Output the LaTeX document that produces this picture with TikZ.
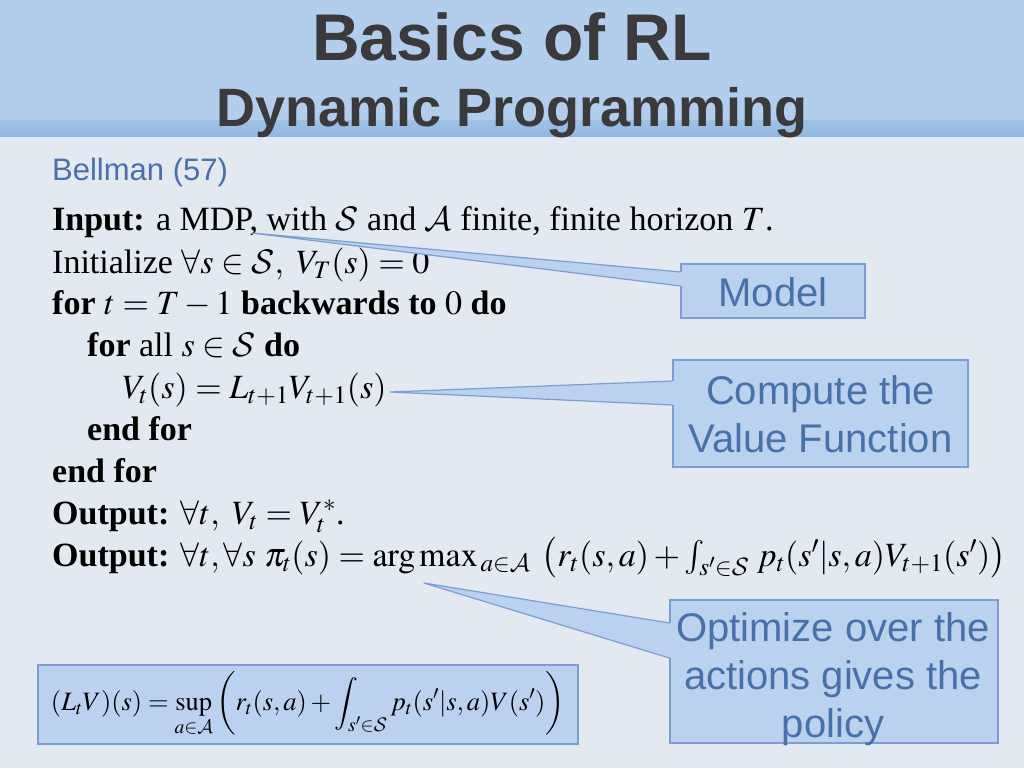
\RequirePackage{fix-cm}
\documentclass[tikz,border=0pt]{standalone}
\usepackage{mathptmx}
\DeclareMathAlphabet{\mathcal}{OMS}{cmsy}{m}{n}
\usepackage{fontspec}
\setmainfont{Liberation Serif}
\newfontfamily\sansfam{Liberation Sans}
\usetikzlibrary{calc}
\definecolor{bg}{RGB}{226,233,241}
\definecolor{head}{RGB}{178,206,236}
\definecolor{streak}{RGB}{146,184,226}
\definecolor{titlec}{RGB}{58,58,58}
\definecolor{bluetext}{RGB}{74,112,170}
\definecolor{boxfill}{RGB}{186,210,240}
\definecolor{boxline}{RGB}{122,158,208}
\begin{document}
\begin{tikzpicture}[x=1pt,y=-1pt,
  algo/.style={anchor=base west, inner sep=0pt, font=\fontsize{34}{40}\selectfont, text=black},
  callbox/.style={draw=boxline, fill=boxfill, line width=1.2pt, inner sep=0pt},
  calltext/.style={text=bluetext, font=\sansfam\fontsize{40}{48}\selectfont, align=center, inner sep=0pt},
  wedgeline/.style={draw=boxline, line width=1.2pt, line join=round}]
\useasboundingbox (0,0) rectangle (1024,768);
% background
\fill[bg] (0,0) rectangle (1024,768);
\fill[head] (0,0) rectangle (1024,121);
\shade[top color=head!40!streak, bottom color=streak] (0,120) rectangle (1024,136);
% titles
\node[anchor=base, inner sep=0pt, font=\sansfam\bfseries\fontsize{66}{70}\selectfont, text=titlec] (title) at (512,60) {Basics of RL};
\node[anchor=base, inner sep=0pt, font=\sansfam\bfseries\fontsize{54}{60}\selectfont, text=titlec] (subtitle) at (512,126) {Dynamic Programming};
\node[anchor=base west, inner sep=0pt, font=\sansfam\fontsize{31}{34}\selectfont, text=bluetext] (bellman) at (52,180) {Bellman (57)};
% algorithm
\node[algo] (l1) at (52,230) {\textbf{Input:} a MDP, with $\mathcal{S}$ and $\mathcal{A}$ finite, finite horizon $T$.};
\node[algo] (l2) at (52,273) {Initialize $\forall s\in\mathcal{S},\ V_T(s)=0$};
\node[algo] (l3) at (52,314) {\textbf{for} $t=T-1$ \textbf{backwards to} $0$ \textbf{do}};
\node[algo] (l4) at (87,356) {\textbf{for} all $s\in\mathcal{S}$ \textbf{do}};
\node[algo] (l5) at (122,398) {$V_t(s)=L_{t+1}V_{t+1}(s)$};
\node[algo] (l6) at (87,440) {\textbf{end for}};
\node[algo] (l7) at (52,482) {\textbf{end for}};
\node[algo] (l8) at (52,524) {\textbf{Output:} $\forall t,\ V_t=V_t^*$.};
\node[algo] (l9) at (52,566) {\textbf{Output:} $\forall t,\forall s\ \pi_t(s)=\arg\max_{\,a\in\mathcal{A}}\;\big(r_t(s,a)+\int_{s'\in\mathcal{S}}\,p_t(s'|s,a)V_{t+1}(s')\big)$};
% formula box
\node[callbox, minimum width=540pt, minimum height=79pt, text=black, font=\fontsize{26.5}{31}\selectfont] (bellop) at (308,704.5)
  {$\displaystyle (L_tV)(s)=\sup_{a\in\mathcal{A}}\left(r_t(s,a)+\int_{s'\in\mathcal{S}}p_t(s'|s,a)V(s')\right)$};
% callout boxes
\node[callbox, minimum width=184pt, minimum height=54pt] (model) at (773,291) {};
\node[callbox, minimum width=295pt, minimum height=107pt] (compute) at (820.5,413.5) {};
\node[callbox, minimum width=328pt, minimum height=143pt] (optim) at (834,671.5) {};
% pointer tips
\coordinate (tipM) at (252,233);
\coordinate (tipC) at (390,392);
\coordinate (tipO) at (424,583);
% wedges
\fill[boxfill] ($(model.west)+(2,-19)$) -- (tipM) -- ($(model.west)+(2,-5)$) -- cycle;
\draw[wedgeline] ($(model.west)+(0,-19)$) -- (tipM) -- ($(model.west)+(0,-5)$);
\fill[boxfill] ($(compute.west)+(2,-32.5)$) -- (tipC) -- ($(compute.west)+(2,-8.5)$) -- cycle;
\draw[wedgeline] ($(compute.west)+(0,-32.5)$) -- (tipC) -- ($(compute.west)+(0,-8.5)$);
\fill[boxfill] ($(optim.west)+(2,-48.5)$) -- (tipO) -- ($(optim.west)+(2,-13.5)$) -- cycle;
\draw[wedgeline] ($(optim.west)+(0,-48.5)$) -- (tipO) -- ($(optim.west)+(0,-13.5)$);
% callout texts
\node[calltext] (modeltxt) at (773,292) {Model};
\node[calltext] (computetxt) at (820.5,414) {Compute the\\Value Function};
\node[calltext] (optimtxt) at (833,679) {Optimize over the\\actions gives the\\policy};
\end{tikzpicture}
\end{document}
